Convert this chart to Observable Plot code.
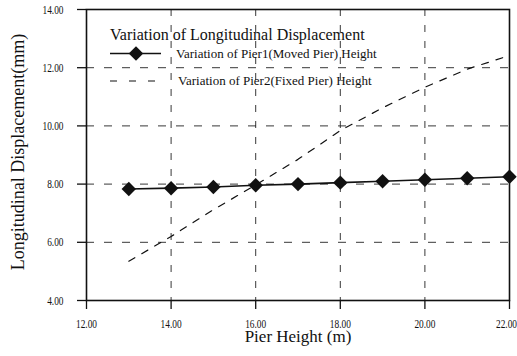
<!DOCTYPE html>
<html>
<head>
<meta charset="utf-8">
<script src="https://cdn.jsdelivr.net/npm/d3@7"></script>
<script src="https://cdn.jsdelivr.net/npm/@observablehq/plot@0.6"></script>
<style>
  html, body { margin: 0; padding: 0; background: #fff; }
  #chart { width: 517px; height: 356px; }
  svg { font-family: "Liberation Serif", "Times New Roman", serif; }
</style>
</head>
<body>
<div id="chart"></div>
<script>
// ---- data ----
const pierHeights = [13, 14, 15, 16, 17, 18, 19, 20, 21, 22];
const pier1Disp = [7.83, 7.86, 7.90, 7.96, 8.00, 8.05, 8.10, 8.15, 8.20, 8.25];
const pier2Disp = [5.35, 6.20, 7.12, 7.97, 8.85, 9.84, 10.62, 11.33, 11.95, 12.42];
const xTicks = [12, 14, 16, 18, 20, 22];
const yTicks = [4, 6, 8, 10, 12, 14];
const xGrid = [14, 16, 18, 20];
const yGrid = [6, 8, 10, 12];
const legendTitle = "Variation of Longitudinal Displacement";
const series1Name = "Variation of Pier1(Moved Pier) Height";
const series2Name = "Variation of Pier2(Fixed Pier) Height";
const xLabel = "Pier Height (m)";
const yLabel = "Longitudinal Displacement(mm)";

const rows1 = pierHeights.map((h, i) => ({h, v: pier1Disp[i]}));
const rows2 = pierHeights.map((h, i) => ({h, v: pier2Disp[i]}));

const svg = Plot.plot({
  width: 517,
  height: 356,
  marginLeft: 86,
  marginRight: 8,
  marginTop: 9,
  marginBottom: 56,
  style: {fontFamily: "Liberation Serif, serif", background: "#fff", color: "#111"},
  x: {domain: [12, 22], label: null},
  y: {domain: [4, 14], label: null},
  marks: [
    Plot.gridX(xGrid, {stroke: "#222", strokeOpacity: 0.9, strokeDasharray: "7,9"}),
    Plot.gridY(yGrid, {stroke: "#222", strokeOpacity: 0.9, strokeDasharray: "8,10"}),
    Plot.axisX(xTicks, {tickSize: 9, tickPadding: 9, tickFormat: d => d.toFixed(2), fontSize: 13, stroke: "#111", strokeWidth: 1.3, label: null}),
    Plot.axisY(yTicks, {tickSize: 9, tickPadding: 14, tickFormat: d => d.toFixed(2), fontSize: 13, stroke: "#111", strokeWidth: 1.3, label: null}),
    Plot.line(rows2, {x: "h", y: "v", stroke: "#111", strokeWidth: 1.2, strokeDasharray: "7,8"}),
    Plot.line(rows1, {x: "h", y: "v", stroke: "#111", strokeWidth: 1.6}),
    Plot.dot(rows1, {x: "h", y: "v", symbol: "diamond2", r: 6.5, fill: "#111", stroke: "none"}),
    Plot.frame({stroke: "#111", strokeWidth: 1.6}),
    Plot.text([xLabel], {frameAnchor: "bottom", dy: 41, fontSize: 17, fill: "#111"}),
    Plot.text([yLabel], {frameAnchor: "left", textAnchor: "middle", rotate: -90, dx: -68.5, dy: -3, fontSize: 18, fill: "#111"})
  ]
});
document.getElementById("chart").appendChild(svg);

// condense tick labels horizontally (the reference uses a narrow face)
const sx = 0.72;
d3.select(svg).selectAll("g[aria-label$='tick label'] text").each(function () {
  const t = this.getAttribute("transform") || "";
  const nudge = this.textContent === "22.00" && t.includes(",300") ? " translate(-3,0)" : "";
  this.setAttribute("transform", t + nudge + ` scale(${sx},1)`);
});

// legend (inside the plot area, transparent background)
const lg = d3.select(svg).append("g").attr("fill", "#111").attr("text-anchor", "start")
  .attr("font-family", "Liberation Serif, serif");
lg.append("text").attr("x", 110).attr("y", 40).attr("font-size", 16).text(legendTitle);
lg.append("line").attr("x1", 110).attr("x2", 161).attr("y1", 53.5).attr("y2", 53.5)
  .attr("stroke", "#111").attr("stroke-width", 1.6);
lg.append("path").attr("d", d3.symbol(d3.symbolDiamond2, Math.PI * 6.5 * 6.5)()).attr("transform", "translate(136,53.5)").attr("fill", "#111");
lg.append("text").attr("x", 176).attr("y", 57.5).attr("font-size", 13).text(series1Name);
lg.append("line").attr("x1", 110).attr("x2", 156).attr("y1", 81).attr("y2", 81)
  .attr("stroke", "#111").attr("stroke-width", 1.2).attr("stroke-dasharray", "7,12");
lg.append("text").attr("x", 178).attr("y", 85).attr("font-size", 13).text(series2Name);
</script>
</body>
</html>
